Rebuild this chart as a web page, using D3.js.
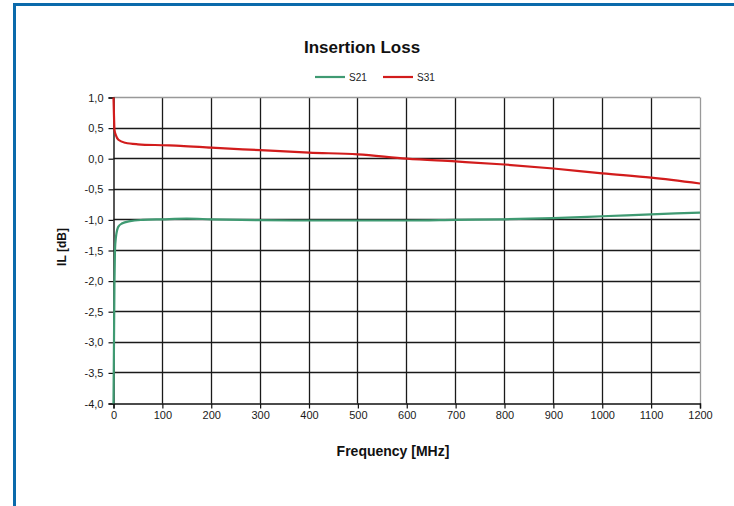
<!DOCTYPE html>
<html>
<head>
<meta charset="utf-8">
<script src="https://cdn.jsdelivr.net/npm/d3@7"></script>
<style>
  body { margin: 0; background: #fff; }
  svg { display: block; font-family: "Liberation Sans", Arial, sans-serif; }
</style>
</head>
<body>
<svg id="chart" width="734" height="506"></svg>
<script>
// valori
const freqS21 = [0, 1, 2, 3, 5, 10, 17, 34, 60, 100, 150, 200, 300, 400, 500, 600, 700, 800, 900, 1000, 1100, 1200];
const valS21 = [-4.0, -3.0, -2.0, -1.5, -1.28, -1.11, -1.06, -1.02, -1.0, -0.99, -0.98, -0.99, -1.005, -1.01, -1.01, -1.01, -1.0, -0.99, -0.97, -0.94, -0.91, -0.88];

const freqS31 = [0, 1, 2, 5, 10, 24, 50, 100, 137, 200, 300, 400, 500, 600, 700, 800, 900, 1000, 1100, 1200];
const valS31 = [1.0, 0.7, 0.47, 0.38, 0.31, 0.26, 0.235, 0.22, 0.21, 0.18, 0.14, 0.10, 0.07, 0.0, -0.045, -0.095, -0.16, -0.24, -0.31, -0.405];

const xTicks = [0, 100, 200, 300, 400, 500, 600, 700, 800, 900, 1000, 1100, 1200];
const yTicks = [1.0, 0.5, 0.0, -0.5, -1.0, -1.5, -2.0, -2.5, -3.0, -3.5, -4.0];

const seriesNames = ["S21", "S31"];
const seriesColors = ["#3f9a72", "#d21c1c"];

const svg = d3.select("#chart");

// bordo blu
svg.append("rect")
  .attr("x", 14.5).attr("y", 4.5)
  .attr("width", 740).attr("height", 520)
  .attr("fill", "none")
  .attr("stroke", "#0b6aab")
  .attr("stroke-width", 3);

const pLeft = 113.5, pRight = 700, pTop = 97.5, pBottom = 403.5;

const x = d3.scaleLinear().domain([0, 1200]).range([pLeft, pRight]);
const y = d3.scaleLinear().domain([-4, 1]).range([pBottom, pTop]);

// arrotonda al centro del pixel per linee nitide
const px = v => Math.round(v - 0.5) + 0.5;

// griglia
const grid = svg.append("g");
grid.selectAll(".vg").data(xTicks.slice(1, -1)).enter().append("line")
  .attr("x1", d => px(x(d))).attr("x2", d => px(x(d)))
  .attr("y1", pTop).attr("y2", pBottom)
  .attr("stroke", "#1a1a1a").attr("stroke-width", 1.3);
grid.selectAll(".hg").data(yTicks.slice(1, -1)).enter().append("line")
  .attr("x1", pLeft).attr("x2", pRight)
  .attr("y1", d => px(y(d))).attr("y2", d => px(y(d)))
  .attr("stroke", "#1a1a1a").attr("stroke-width", 1.3);

// bordo superiore e destro grigio
grid.append("line").attr("x1", pLeft).attr("x2", pRight).attr("y1", pTop).attr("y2", pTop)
  .attr("stroke", "#999").attr("stroke-width", 1.3);
grid.append("line").attr("x1", px(pRight)).attr("x2", px(pRight)).attr("y1", pTop).attr("y2", pBottom)
  .attr("stroke", "#999").attr("stroke-width", 1.3);

// assi
const fmt = d => d3.format(".1f")(d).replace(".", ",").replace("−", "-");

const xAxis = svg.append("g")
  .attr("transform", "translate(0," + pBottom + ")")
  .call(d3.axisBottom(x).tickValues(xTicks).tickSize(5).tickPadding(3).tickFormat(d3.format("d")));
const yAxis = svg.append("g")
  .attr("transform", "translate(" + pLeft + ",0)")
  .call(d3.axisLeft(y).tickValues(yTicks).tickSize(5).tickPadding(5).tickFormat(fmt));

[xAxis, yAxis].forEach(a => {
  a.select(".domain").attr("stroke", "#111").attr("stroke-width", 1.4);
  a.selectAll(".tick line").attr("stroke", "#111").attr("stroke-width", 1.2);
  a.selectAll("text").attr("fill", "#1a1a1a").style("font-size", "11px")
    .style("font-family", "'Liberation Sans', Arial, sans-serif");
});

// linee
const line = d3.line()
  .x(d => x(d[0]))
  .y(d => y(d[1]))
  .curve(d3.curveMonotoneX);

svg.append("path")
  .datum(d3.zip(freqS21, valS21))
  .attr("d", line)
  .attr("fill", "none")
  .attr("stroke", seriesColors[0])
  .attr("stroke-width", 2.2);

svg.append("path")
  .datum(d3.zip(freqS31, valS31))
  .attr("d", line)
  .attr("fill", "none")
  .attr("stroke", seriesColors[1])
  .attr("stroke-width", 2.2);

// titolo
svg.append("text")
  .attr("x", 362).attr("y", 53)
  .attr("text-anchor", "middle")
  .style("font-size", "17px").style("font-weight", "bold")
  .attr("fill", "#111")
  .text("Insertion Loss");

// legenda
const legendX = [315, 383];
seriesNames.forEach((name, i) => {
  svg.append("line")
    .attr("x1", legendX[i]).attr("x2", legendX[i] + 30)
    .attr("y1", 77).attr("y2", 77)
    .attr("stroke", seriesColors[i]).attr("stroke-width", 2.2);
  svg.append("text")
    .attr("x", legendX[i] + 34).attr("y", 81)
    .style("font-size", "10px")
    .attr("fill", "#222")
    .text(name);
});

// etichette assi
svg.append("text")
  .attr("x", 393).attr("y", 456)
  .attr("text-anchor", "middle")
  .style("font-size", "14px").style("font-weight", "bold")
  .attr("fill", "#111")
  .text("Frequency [MHz]");

svg.append("text")
  .attr("transform", "translate(66,247) rotate(-90)")
  .attr("text-anchor", "middle")
  .style("font-size", "12px").style("font-weight", "bold")
  .attr("fill", "#111")
  .text("IL [dB]");
</script>
</body>
</html>
